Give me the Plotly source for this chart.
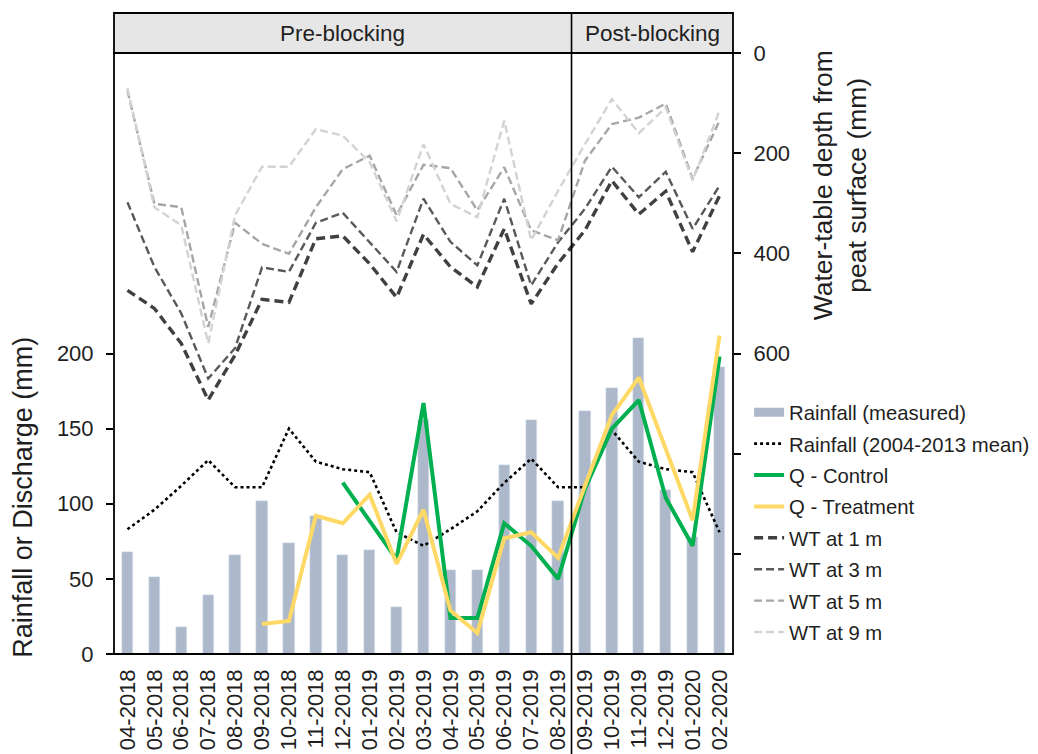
import plotly.graph_objects as go

# Monthly categories (MM-YYYY)
months = ["04-2018", "05-2018", "06-2018", "07-2018", "08-2018", "09-2018",
          "10-2018", "11-2018", "12-2018", "01-2019", "02-2019", "03-2019",
          "04-2019", "05-2019", "06-2019", "07-2019", "08-2019", "09-2019",
          "10-2019", "11-2019", "12-2019", "01-2020", "02-2020"]

# Rainfall and discharge (mm)
rain_measured = [68, 51, 18, 39, 66, 102, 74, 92, 66, 69, 31, 156,
                 56, 56, 126, 156, 102, 162, 177, 210, 109, 78, 191]
rain_mean = [83, 96, 112, 129, 111, 111, 150, 128, 123, 121, 81, 72,
             83, 95, 114, 130, 111, 111, 149, 128, 123, 121, 81]
q_control = [None, None, None, None, None, None, None, None, 114, 88, 63, 167,
             24, 24, 87, 72, 50, 110, 150, 169, 104, 72, 198]
q_treatment = [None, None, None, None, None, 20, 22, 92, 87, 106, 60, 96,
               29, 14, 77, 81, 64, 112, 159, 184, 136, 89, 212]

# Water-table depth below peat surface (mm), by distance from ditch
wt_1m = [474, 510, 580, 693, 603, 492, 498, 371, 365, 421, 488, 362,
         427, 467, 351, 501, 420, 354, 255, 322, 276, 397, 285]
wt_3m = [298, 427, 520, 650, 589, 428, 437, 339, 319, 377, 437, 291,
         377, 424, 291, 464, 378, 311, 227, 288, 237, 351, 265]
wt_5m = [75, 301, 308, 547, 339, 381, 401, 308, 232, 205, 324, 223,
         230, 314, 228, 354, 374, 215, 142, 129, 101, 251, 135]
wt_9m = [70, 308, 344, 580, 324, 227, 227, 152, 165, 218, 336, 182,
         301, 328, 135, 374, 275, 182, 92, 160, 109, 255, 115]

# Period labels and the last month before drain blocking
periods = ["Pre-blocking", "Post-blocking"]
split_after = "08-2019"

FONT = "Liberation Sans, Arial, sans-serif"
TXT = "#1f1f1f"
BAR_COLOR = "#ADB9CA"

fig = go.Figure()

fig.add_trace(go.Bar(x=months, y=rain_measured, marker_color=BAR_COLOR,
                     width=0.42, showlegend=False, name="Rainfall (measured)",
                     legendgroup="rain"))
# legend swatch for the bars drawn as a wide flat band
fig.add_trace(go.Scatter(x=[None], y=[None], mode="lines", name="Rainfall (measured)",
                         line=dict(color=BAR_COLOR, width=9), legendgroup="rain"))
fig.add_trace(go.Scatter(x=months, y=rain_mean, mode="lines",
                         name="Rainfall (2004-2013 mean)", legendgroup="mean",
                         line=dict(color="#000000", width=2.6, dash="dot")))
fig.add_trace(go.Scatter(x=months, y=q_control, mode="lines", name="Q - Control",
                         legendgroup="qc", line=dict(color="#00B050", width=4)))
fig.add_trace(go.Scatter(x=months, y=q_treatment, mode="lines", name="Q - Treatment",
                         legendgroup="qt", line=dict(color="#FFD966", width=4)))

wt_series = [("WT at 1 m", wt_1m, "#404040", 3.4, "9px,5px"),
             ("WT at 3 m", wt_3m, "#595959", 2.4, "8px,4px"),
             ("WT at 5 m", wt_5m, "#A6A6A6", 2.4, "8px,4px"),
             ("WT at 9 m", wt_9m, "#D3D3D3", 2.4, "8px,4px")]
for name, vals, col, w, dash in wt_series:
    fig.add_trace(go.Scatter(x=months, y=vals, mode="lines", name=name, yaxis="y2",
                             legendgroup=name,
                             line=dict(color=col, width=w, dash=dash)))

split_x = months.index(split_after) + 0.5
n = len(months)
head_h = 40 / 601.3

shapes = [
    # header band
    dict(type="rect", xref="paper", yref="paper", x0=0, x1=1, y0=1, y1=1 + head_h,
         fillcolor="#E6E6E6", line=dict(color="#000000", width=1.8), layer="below"),
    # plot frame
    dict(type="rect", xref="paper", yref="paper", x0=0, x1=1, y0=0, y1=1,
         line=dict(color="#000000", width=1.8)),
    # blocking divider
    dict(type="line", xref="x", yref="paper", x0=split_x, x1=split_x,
         y0=-0.17, y1=1 + head_h, line=dict(color="#000000", width=1.6)),
]

annotations = [
    dict(text=periods[0], xref="x", yref="paper", x=(-0.5 + split_x) / 2, y=1 + head_h / 2,
         xanchor="center", yanchor="middle", showarrow=False,
         font=dict(size=22.5, color=TXT, family=FONT)),
    dict(text=periods[1], xref="x", yref="paper", x=(split_x + n - 0.5) / 2, y=1 + head_h / 2,
         xanchor="center", yanchor="middle", showarrow=False,
         font=dict(size=22.5, color=TXT, family=FONT)),
    dict(text="Rainfall or Discharge (mm)", xref="paper", yref="paper",
         x=-0.147, y=0.26, xanchor="center", yanchor="middle", textangle=-90,
         showarrow=False, font=dict(size=27, color=TXT, family=FONT)),
    dict(text="Water-table depth from<br>peat surface (mm)", xref="paper", yref="paper",
         x=1.173, y=0.78, xanchor="center", yanchor="middle", textangle=-90,
         showarrow=False, font=dict(size=26.5, color=TXT, family=FONT)),
]

fig.update_layout(
    width=1038, height=754,
    margin=dict(l=114, r=305, t=53, b=100, autoexpand=False),
    paper_bgcolor="white", plot_bgcolor="white",
    font=dict(family=FONT, color=TXT, size=21),
    bargap=0,
    xaxis=dict(type="category", categoryorder="array", categoryarray=months,
               range=[-0.5, n - 0.5], tickangle=-90, showgrid=False, ticks="",
               tickfont=dict(size=22), zeroline=False, showline=False,
               ticklabelstandoff=10),
    yaxis=dict(range=[0, 400], tickvals=[0, 50, 100, 150, 200], showgrid=False,
               zeroline=False, ticks="outside", ticklen=7, tickwidth=1.8,
               tickcolor="#000000", ticklabelstandoff=8, tickfont=dict(size=22),
               showline=False),
    yaxis2=dict(range=[1200, 0], overlaying="y", side="right",
                tickvals=[0, 200, 400, 600, 800, 1000],
                ticktext=["0", "200", "400", "600", "", ""],
                showgrid=False, zeroline=False, ticks="outside", ticklen=7,
                tickwidth=1.8, tickcolor="#000000", ticklabelstandoff=8,
                tickfont=dict(size=22), showline=False),
    legend=dict(x=1.026, xanchor="left", y=0.435, yanchor="top",
                bgcolor="rgba(255,255,255,1)", font=dict(size=20.3, color=TXT),
                traceorder="grouped", tracegroupgap=2, itemwidth=30),
    shapes=shapes,
    annotations=annotations,
)

fig.write_html("out.html")
